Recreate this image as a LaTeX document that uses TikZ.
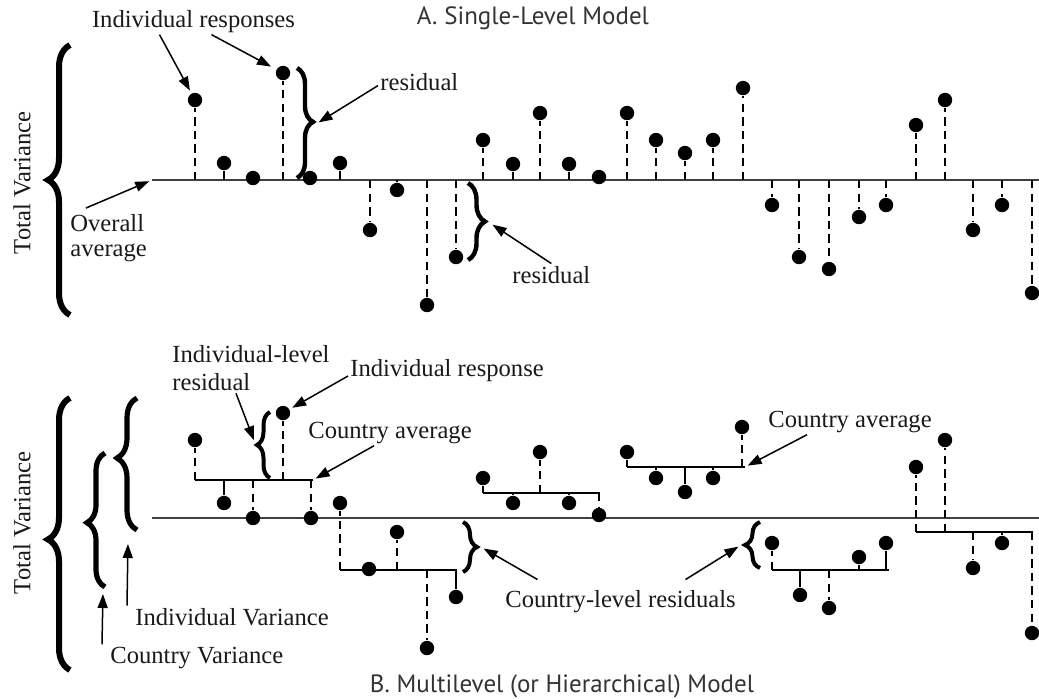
\documentclass[tikz,border=0pt]{standalone}
\usepackage{fontspec}
\setmainfont{Liberation Serif}
\newfontfamily\panelfont{PT Sans}
\usetikzlibrary{arrows.meta,decorations.pathreplacing}

\begin{document}
\begin{tikzpicture}[x=0.5pt, y=-0.5pt,
    resp/.style={circle, fill=black, inner sep=0pt, minimum size=7.2pt},
    stem/.style={line width=1.3pt, dash pattern=on 4.2pt off 2.6pt},
    tick/.style={line width=1.3pt},
    level/.style={line width=1.2pt, draw=black!75},
    lbl/.style={inner sep=1pt, text=black!90, font=\fontsize{12.3}{12.6}\selectfont},
    paneltitle/.style={inner sep=1pt, text=black!80, font=\panelfont\fontsize{12.5}{14}\selectfont},
    pointer/.style={line width=0.75pt, shorten >=1.5pt, -{Triangle[length=7pt,width=5pt]}},
    curly/.style={decorate, line width=#1}]
    % the page is the size of the reference, one unit per pixel
    \useasboundingbox (0,0) rectangle (1039,698);

    %%% A. single-level model
    \node[paneltitle] (titleA) at (533,18) {A. Single-Level Model};
    \coordinate (baseA) at (152,180);
    \coordinate (endA) at (1039,180);
    \draw[level] (baseA) -- (endA);

    \node[resp] (r1) at (195,100) {};
    \node[resp] (r2) at (224,163) {};
    \node[resp] (r3) at (253,178) {};
    \node[resp] (r4) at (283,73) {};
    \node[resp] (r5) at (310,178) {};
    \node[resp] (r6) at (340,163) {};
    \node[resp] (r7) at (370,230) {};
    \node[resp] (r8) at (397,190) {};
    \node[resp] (r9) at (427,305) {};
    \node[resp] (r10) at (456,257) {};
    \node[resp] (r11) at (483,140) {};
    \node[resp] (r12) at (513,164) {};
    \node[resp] (r13) at (540,113) {};
    \node[resp] (r14) at (569,164) {};
    \node[resp] (r15) at (599,177) {};
    \node[resp] (r16) at (627,113) {};
    \node[resp] (r17) at (656,140) {};
    \node[resp] (r18) at (685,153) {};
    \node[resp] (r19) at (713,140) {};
    \node[resp] (r20) at (743,88) {};
    \node[resp] (r21) at (772,205) {};
    \node[resp] (r22) at (799,257) {};
    \node[resp] (r23) at (829,269) {};
    \node[resp] (r24) at (859,217) {};
    \node[resp] (r25) at (886,205) {};
    \node[resp] (r26) at (916,125) {};
    \node[resp] (r27) at (945,100) {};
    \node[resp] (r28) at (973,230) {};
    \node[resp] (r29) at (1002,205) {};
    \node[resp] (r30) at (1032,293) {};

    \draw[tick] (r2 |- baseA) -- (r2) (r6 |- baseA) -- (r6) (r8 |- baseA) -- (r8)
        (r12 |- baseA) -- (r12) (r14 |- baseA) -- (r14);
    \draw[stem] (r1 |- baseA) -- (r1) (r4 |- baseA) -- (r4) (r7 |- baseA) -- (r7)
        (r9 |- baseA) -- (r9) (r10 |- baseA) -- (r10) (r11 |- baseA) -- (r11)
        (r13 |- baseA) -- (r13) (r16 |- baseA) -- (r16) (r17 |- baseA) -- (r17)
        (r18 |- baseA) -- (r18) (r19 |- baseA) -- (r19) (r20 |- baseA) -- (r20)
        (r21 |- baseA) -- (r21) (r22 |- baseA) -- (r22) (r23 |- baseA) -- (r23)
        (r24 |- baseA) -- (r24) (r25 |- baseA) -- (r25) (r26 |- baseA) -- (r26)
        (r27 |- baseA) -- (r27) (r28 |- baseA) -- (r28) (r29 |- baseA) -- (r29)
        (r30 |- baseA) -- (r30);

    \draw[curly=3pt, decoration={brace, amplitude=11pt}] (70,315) -- (70,45);
    \draw[curly=2.2pt, decoration={brace, amplitude=8pt, aspect=0.49}] (297,68) -- (297,178);
    \draw[curly=2.2pt, decoration={brace, amplitude=8.5pt}] (468,183) -- (468,260);
    \coordinate (tipA1) at (316,124);
    \coordinate (tipA2) at (490,223);

    \node[lbl, rotate=90] (totalA) at (22,183) {Total Variance};
    \node[lbl, anchor=base] (resps) at (193.5,27) {Individual responses};
    \node[lbl, anchor=base west] (resid1) at (378,90) {residual};
    \node[lbl, anchor=base west] (resid2) at (510,283) {residual};
    \node[lbl, anchor=north west, align=left] (overall) at (68,212) {Overall\\average};

    \draw[pointer] ([xshift=-17pt]resps.south) -- (r1);
    \draw[pointer, shorten >=3pt] ([xshift=9pt]resps.south) -- (r4);
    \draw[pointer] ([yshift=-2pt]resid1.west) -- (tipA1);
    \draw[pointer] (resid2.north) -- (tipA2);
    \draw[pointer] ([xshift=9pt, yshift=2pt]overall.north west) -- (baseA);

    %%% B. multilevel model
    \node[paneltitle] (titleB) at (562,686) {B. Multilevel (or Hierarchical) Model};
    \coordinate (baseB) at (152,518);
    \coordinate (endB) at (1039,518);
    \draw[level] (baseB) -- (endB);

    \coordinate (avg1w) at (195,480);
    \coordinate (avg1e) at (313,480);
    \coordinate (avg2w) at (340,570);
    \coordinate (avg2e) at (457,570);
    \coordinate (avg3w) at (483,493);
    \coordinate (avg3e) at (600,493);
    \coordinate (avg4w) at (627,467);
    \coordinate (avg4e) at (745,467);
    \coordinate (avg5w) at (772,570);
    \coordinate (avg5e) at (889,570);
    \coordinate (avg6w) at (916,532);
    \coordinate (avg6e) at (1033,532);
    \draw[level, draw=black] (avg1w) -- (avg1e) (avg2w) -- (avg2e) (avg3w) -- (avg3e)
        (avg4w) -- (avg4e) (avg5w) -- (avg5e) (avg6w) -- (avg6e);

    \node[resp] (c1a) at (195,440) {};
    \node[resp] (c1b) at (224,503) {};
    \node[resp] (c1c) at (253,518) {};
    \node[resp] (c1d) at (283,413) {};
    \node[resp] (c1e) at (311,518) {};
    \node[resp] (c2a) at (340,503) {};
    \node[resp] (c2b) at (369,569) {};
    \node[resp] (c2c) at (397,532) {};
    \node[resp] (c2d) at (427,648) {};
    \node[resp] (c2e) at (456,597) {};
    \node[resp] (c3a) at (483,478) {};
    \node[resp] (c3b) at (513,503) {};
    \node[resp] (c3c) at (540,452) {};
    \node[resp] (c3d) at (569,503) {};
    \node[resp] (c3e) at (599,515) {};
    \node[resp] (c4a) at (627,452) {};
    \node[resp] (c4b) at (656,478) {};
    \node[resp] (c4c) at (685,492) {};
    \node[resp] (c4d) at (713,478) {};
    \node[resp] (c4e) at (742,427) {};
    \node[resp] (c5a) at (772,543) {};
    \node[resp] (c5b) at (800,595) {};
    \node[resp] (c5c) at (829,608) {};
    \node[resp] (c5d) at (859,557) {};
    \node[resp] (c5e) at (886,543) {};
    \node[resp] (c6a) at (916,467) {};
    \node[resp] (c6b) at (945,440) {};
    \node[resp] (c6c) at (973,568) {};
    \node[resp] (c6d) at (1002,543) {};
    \node[resp] (c6e) at (1032,633) {};

    \draw[tick] (c1b |- avg1w) -- (c1b) (c2e |- avg2w) -- (c2e)
        (c3a |- avg3w) -- (c3a) (c3b |- avg3w) -- (c3b) (c3d |- avg3w) -- (c3d)
        (c4a |- avg4w) -- (c4a) (c4b |- avg4w) -- (c4b) (c4c |- avg4w) -- (c4c)
        (c4d |- avg4w) -- (c4d) (c5b |- avg5w) -- (c5b) (c5d |- avg5w) -- (c5d)
        (c5e |- avg5w) -- (c5e) (c6d |- avg6w) -- (c6d);
    \draw[stem] (c1a |- avg1w) -- (c1a) (c1c |- avg1w) -- (c1c) (c1d |- avg1w) -- (c1d)
        (c1e |- avg1w) -- (c1e) (c2a |- avg2w) -- (c2a) (c2c |- avg2w) -- (c2c)
        (c2d |- avg2w) -- (c2d) (c3c |- avg3w) -- (c3c) (c3e |- avg3w) -- (c3e)
        (c4e |- avg4w) -- (c4e) (c5a |- avg5w) -- (c5a) (c5c |- avg5w) -- (c5c)
        (c6a |- avg6w) -- (c6a) (c6b |- avg6w) -- (c6b) (c6c |- avg6w) -- (c6c)
        (c6e |- avg6w) -- (c6e);

    \draw[curly=3pt, decoration={brace, amplitude=11pt, aspect=0.48}] (70,670) -- (70,398);
    \draw[curly=2.6pt, decoration={brace, amplitude=9pt, aspect=0.48}] (105,587) -- (105,453);
    \draw[curly=2.6pt, decoration={brace, amplitude=10pt, aspect=0.545}] (137,530) -- (137,398);
    \draw[curly=2pt, decoration={brace, amplitude=6.5pt}] (270,478) -- (270,412);
    \draw[curly=2pt, decoration={brace, amplitude=7pt}] (463,522) -- (463,572);
    \draw[curly=2pt, decoration={brace, amplitude=7.5pt}] (760,568) -- (760,522);
    \coordinate (tipB1) at (255,443);
    \coordinate (tipB2) at (481,547);
    \coordinate (tipB3) at (741,545);
    \coordinate (cvarEnd) at (103,591);
    \coordinate (ivarEnd) at (128,541);

    \node[lbl, rotate=90] (totalB) at (22,523) {Total Variance};
    \node[lbl, anchor=north west, align=left] (indres) at (170,343) {Individual-level\\[1.5pt]residual};
    \node[lbl, anchor=base west] (oneresp) at (348,376) {Individual response};
    \node[lbl, anchor=base west] (cavgL) at (306,438) {Country average};
    \node[lbl, anchor=base west] (cavgR) at (766,427) {Country average};
    \node[lbl, anchor=base west] (ctyres) at (503,607) {Country-level residuals};
    \node[lbl, anchor=base west] (indvar) at (133,625) {Individual Variance};
    \node[lbl, anchor=base west] (ctyvar) at (108,663) {Country Variance};

    \draw[pointer] ([xshift=33pt]indres.south west) -- (tipB1);
    \draw[pointer] (oneresp.base west) -- (c1d);
    \draw[pointer] ([xshift=-8pt]cavgL.south) -- (avg1e);
    \draw[pointer] ([xshift=-21.5pt]cavgR.south) -- (avg4e);
    \draw[pointer] ([xshift=-41.5pt, yshift=4pt]ctyres.north) -- (tipB2);
    \draw[pointer] ([xshift=32.5pt, yshift=4pt]ctyres.north) -- (tipB3);
    \draw[pointer] ([xshift=-3pt]ctyvar.north west) -- (cvarEnd);
    \draw[pointer] ([xshift=-3pt]indvar.north west) -- (ivarEnd);
\end{tikzpicture}
\end{document}
